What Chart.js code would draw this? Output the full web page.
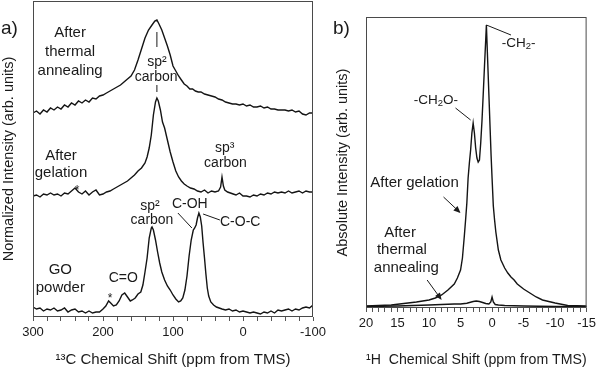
<!DOCTYPE html>
<html lang="en">
<head>
<meta charset="UTF-8" />
<title>13C and 1H NMR spectra</title>
<script src="https://cdn.jsdelivr.net/npm/chart.js"></script>
<style>
  body { margin: 0; background: #fff; font-family: 'Liberation Sans', Arial, sans-serif; }
  #wrap { position: relative; width: 600px; height: 369px; overflow: hidden; }
  canvas { position: absolute; top: 0; }
  #cA { left: 0; }
  #cB { left: 320px; }
  .tag { position: absolute; font-size: 19px; line-height: 1; color: #1a1a1a; }
</style>
</head>
<body>
<div id="wrap">
  <canvas id="cA" width="340" height="369"></canvas>
  <canvas id="cB" width="280" height="369"></canvas>
  <div class="tag" style="left:1px;top:18px">a)</div>
  <div class="tag" style="left:333px;top:18px">b)</div>
</div>

<script>
// ---- panel a: 13C spectra (traces are offset, arb. units) ----
const annealPpm = [300,295,290,285,280,275,270,265,260,255,
                   250,245,240,235,230,225,220,215,210,205,
                   200,195,190,185,180,175,170,165,160,155,
                   150,145,140,135,130,126,123,120,116,112,
                   108,104,100,96,92,88,84,80,76,72,
                   68,64,60,55,50,45,40,35,30,25,
                   20,15,10,5,0,-5,-10,-15,-20,-25,
                   -30,-35,-40,-45,-50,-55,-60,-65,-70,-75,
                   -80,-85,-90,-95,-100];
const annealInt = [204,206,203,207,205,209,207,210,208,212,
                   210,214,212,216,214,217,215,219,218,221,
                   222,224,226,228,230,232,235,238,241,247,
                   257,268,279,287,292,296,297,293,287,279,
                   271,262,251,246,241,237,233,231,228,228,
                   226,225,225,223,222,221,220,218,217,215,
                   214,213,213,212,213,211,212,210,210,211,
                   209,210,208,208,207,207,207,206,207,205,
                   206,203,202,204,204];

const gelPpm = [300,295,290,285,280,275,270,265,260,255,
                250,245,240,235,230,225,220,215,210,205,
                200,195,190,185,180,175,170,165,160,155,
                150,145,140,137,134,131,128,125,123,121,
                118,115,112,108,104,100,96,92,88,84,
                80,75,70,65,60,55,50,45,40,35,
                32,30,28,26,22,18,14,10,5,0,
                -5,-10,-15,-20,-25,-30,-35,-40,-45,-50,
                -55,-60,-65,-70,-75,-80,-85,-90,-95,-100];
const gelInt = [121,122,120,123,122,124,122,123,121,124,
                123,126,129,125,123,126,122,125,127,122,
                123,125,126,128,130,132,134,136,139,142,
                146,149,154,160,169,182,202,215,219,216,
                207,195,189,177,165,155,146,140,136,133,
                131,129,128,126,125,127,124,126,125,126,
                130,140,131,127,125,124,123,122,124,121,
                121,120,122,121,123,122,124,123,125,124,
                125,124,126,124,125,126,124,126,125,125];

const goPpm = [300,295,290,285,280,275,270,265,260,255,
               250,245,240,235,230,225,220,215,210,205,
               200,196,192,189,185,181,177,173,169,165,
               161,158,154,150,146,143,140,137,134,131,
               130,128,125,122,119,116,112,108,104,100,
               96,92,89,86,83,80,77,74,71,69,
               67,65,63,61,59,57,55,53,51,49,
               46,42,38,34,30,25,20,15,10,5,
               0,-5,-10,-15,-20,-25,-30,-35,-40,-45,
               -50,-55,-60,-65,-70,-75,-80,-85,-90,-95,
               -100];
const goInt = [10,8,9,6,8,7,9,6,7,9,
               5,7,8,5,6,4,6,4,5,5,
               8,11,16,14,11,12,16,22,24,20,
               16,17,19,23,25,32,45,59,79,89,
               90,87,77,65,54,45,37,31,27,22,
               18,15,16,19,27,41,61,77,87,89,
               92,99,104,100,91,74,59,43,29,21,
               15,12,10,9,8,7,8,6,7,5,
               6,5,4,5,4,3,5,4,6,4,
               7,6,7,8,6,8,7,9,10,9,
               12];

// ---- panel b: 1H spectra (absolute intensity, arb. units) ----
const hGelPpm = [20,18,16,14,12,10,9,8,7,6,
                 5.5,5,4.7,4.4,4.2,4,3.8,3.6,3.4,3.2,
                 3,2.8,2.6,2.4,2.2,2,1.8,1.6,1.4,1.2,
                 1,0.9,0.7,0.5,0.3,0.15,0,-0.2,-0.4,-0.6,
                 -1,-1.4,-2,-2.5,-3,-3.5,-4,-5,-6,-7,
                 -8,-10,-12,-15];
const hGelInt = [2,2.5,3,4.5,6,8,10,13,18,24,
                 30,38,50,72,88,105,130,145,158,175,
                 185,175,160,150,146,148,165,187,214,242,
                 269,283,248,213,178,152,130,102,88,76,
                 58,48,40,35,31,28,24,19,15,11,
                 8,5,2.5,2];

const hAnnPpm = [20,15,10,8,6,5,4,3,2.5,2,
                 1.5,1,0.5,0.2,0,-0.2,-0.5,-1,-2,-5,
                 -10,-15];
const hAnnInt = [1.5,2,3,3.5,4,4,4.8,6.5,7,6.5,
                 5.5,4.5,4,6,11,6,3.5,3,2.5,2,
                 1.5,1.2];

// labels placed in data coordinates (ppm, intensity)
const notesA = {
  texts: [
    { x: 247, y: 284, p: ['After'], s: 15 },
    { x: 247, y: 265, p: ['thermal'], s: 15 },
    { x: 247, y: 246, p: ['annealing'], s: 15 },
    { x: 123, y: 255, p: ['sp²'], s: 14 },
    { x: 124, y: 240, p: ['carbon'], s: 14 },
    { x: 260, y: 161, p: ['After'], s: 15 },
    { x: 260, y: 144, p: ['gelation'], s: 15 },
    { x: 26, y: 169, p: ['sp³'], s: 14 },
    { x: 25, y: 154, p: ['carbon'], s: 14 },
    { x: 237, y: 126, p: ['*'], s: 12 },
    { x: 190, y: 18, p: ['*'], s: 12 },
    { x: 133, y: 111, p: ['sp²'], s: 14 },
    { x: 130, y: 97, p: ['carbon'], s: 14 },
    { x: 76, y: 113, p: ['C-OH'], s: 14 },
    { x: 4, y: 95, p: ['C-O-C'], s: 14 },
    { x: 171, y: 39, p: ['C=O'], s: 14 },
    { x: 261, y: 47, p: ['GO'], s: 15 },
    { x: 261, y: 29, p: ['powder'], s: 15 }
  ],
  lines: [[123, 285, 123, 270], [123, 232, 123, 225], [93, 104, 73, 89], [57, 103, 33, 97]],
  arrows: []
};

const notesB = {
  texts: [
    { x: -4.2, y: 265, p: ['-CH', ['2'], '-'], s: 13.5 },
    { x: 8.9, y: 208, p: ['-CH', ['2'], 'O-'], s: 13.5 },
    { x: 12.3, y: 125, p: ['After gelation'], s: 15 },
    { x: 14.6, y: 75, p: ['After'], s: 15 },
    { x: 14.3, y: 58, p: ['thermal'], s: 15 },
    { x: 13.6, y: 40, p: ['annealing'], s: 15 }
  ],
  lines: [[0.9, 283, -3.0, 273], [5.8, 200, 3.4, 188]],
  arrows: [[7.7, 111, 5.0, 95], [10.3, 28, 8.0, 8]]
};

const FONT = "'Liberation Sans', Arial, sans-serif";
const INK = '#1a1a1a';

function pairs(xs, ys) {
  return xs.map((v, i) => ({ x: v, y: ys[i] }));
}

function drawParts(ctx, parts, cx, cy, size) {
  const pieces = parts.map(p => {
    const sub = Array.isArray(p);
    const txt = sub ? p[0] : p;
    const fs = sub ? size * 0.7 : size;
    ctx.font = fs + 'px ' + FONT;
    return { txt, sub, fs, w: ctx.measureText(txt).width };
  });
  let x = cx - pieces.reduce((a, b) => a + b.w, 0) / 2;
  ctx.textAlign = 'left';
  ctx.textBaseline = 'middle';
  pieces.forEach(pc => {
    ctx.font = pc.fs + 'px ' + FONT;
    ctx.fillText(pc.txt, x, cy + (pc.sub ? size * 0.28 : 0));
    x += pc.w;
  });
}

function notesPlugin(notes) {
  return {
    id: 'notes',
    afterDraw(chart) {
      const { ctx, chartArea: a, scales: { x, y } } = chart;
      ctx.save();
      // frame around plot
      ctx.strokeStyle = '#4a4a4a';
      ctx.lineWidth = 1;
      ctx.strokeRect(a.left + 0.5, a.top + 0.5, a.right - a.left - 1, a.bottom - a.top - 1);

      ctx.strokeStyle = INK;
      ctx.fillStyle = INK;
      ctx.lineWidth = 1;
      notes.lines.forEach(l => {
        ctx.beginPath();
        ctx.moveTo(x.getPixelForValue(l[0]), y.getPixelForValue(l[1]));
        ctx.lineTo(x.getPixelForValue(l[2]), y.getPixelForValue(l[3]));
        ctx.stroke();
      });
      notes.arrows.forEach(l => {
        const x0 = x.getPixelForValue(l[0]), y0 = y.getPixelForValue(l[1]);
        const x1 = x.getPixelForValue(l[2]), y1 = y.getPixelForValue(l[3]);
        const ang = Math.atan2(y1 - y0, x1 - x0);
        ctx.beginPath();
        ctx.moveTo(x0, y0);
        ctx.lineTo(x1 - 4 * Math.cos(ang), y1 - 4 * Math.sin(ang));
        ctx.stroke();
        ctx.beginPath();
        ctx.moveTo(x1, y1);
        ctx.lineTo(x1 - 7 * Math.cos(ang) + 3 * Math.sin(ang), y1 - 7 * Math.sin(ang) - 3 * Math.cos(ang));
        ctx.lineTo(x1 - 7 * Math.cos(ang) - 3 * Math.sin(ang), y1 - 7 * Math.sin(ang) + 3 * Math.cos(ang));
        ctx.closePath();
        ctx.fill();
      });
      notes.texts.forEach(t => {
        drawParts(ctx, t.p, x.getPixelForValue(t.x), y.getPixelForValue(t.y), t.s);
      });
      ctx.restore();
    }
  };
}

function lineSet(xs, ys, w) {
  return { data: pairs(xs, ys), borderColor: '#141414', borderWidth: w, pointRadius: 0, tension: 0, fill: false };
}

function makeChart(id, cfg) {
  return new Chart(document.getElementById(id), {
    type: 'line',
    data: { datasets: cfg.sets },
    options: {
      responsive: false,
      animation: false,
      layout: { padding: cfg.pad },
      plugins: { legend: { display: false }, tooltip: { enabled: false } },
      scales: {
        x: {
          type: 'linear', reverse: true, min: cfg.xMin, max: cfg.xMax,
          afterFit: s => { s.height = cfg.xH; },
          border: { display: false },
          grid: { drawOnChartArea: false, tickLength: 4, color: '#555' },
          ticks: {
            stepSize: cfg.step, autoSkip: false, maxRotation: 0, padding: 4,
            color: INK, font: { family: FONT, size: 13 },
            callback: v => (Math.round(v) % cfg.every === 0 ? String(Math.round(v)) : '')
          },
          title: { display: true, text: cfg.xTitle, color: INK,
                   font: { family: FONT, size: 15 }, padding: { top: 0, bottom: 0 } }
        },
        y: {
          min: 0, max: cfg.yMax,
          afterFit: s => { s.width = cfg.yW; },
          ticks: { display: false },
          grid: { display: false },
          border: { display: false },
          title: { display: true, text: cfg.yTitle, color: INK,
                   font: { family: FONT, size: 14.5 }, padding: { top: cfg.yPad, bottom: 0 } }
        }
      }
    },
    plugins: [notesPlugin(cfg.notes)]
  });
}

makeChart('cA', {
  sets: [lineSet(annealPpm, annealInt, 1.4), lineSet(gelPpm, gelInt, 1.4), lineSet(goPpm, goInt, 1.4)],
  pad: { top: 1, right: 27, left: 0, bottom: 0 },
  xMin: -100, xMax: 300, step: 20, every: 100, xH: 52,
  yMax: 316, yW: 33, yPad: 0.3,
  xTitle: '¹³C Chemical Shift (ppm from TMS)',
  yTitle: 'Normalized Intensity (arb. units)',
  notes: notesA
});

makeChart('cB', {
  sets: [lineSet(hGelPpm, hGelInt, 1.4), lineSet(hAnnPpm, hAnnInt, 1.4)],
  pad: { top: 17, right: 10, left: 0, bottom: 0 },
  xMin: -15, xMax: 20, step: 1, every: 5, xH: 61,
  yMax: 291, yW: 46, yPad: 14.3,
  xTitle: '¹H  Chemical Shift (ppm from TMS)',
  yTitle: 'Absolute Intensity (arb. units)',
  notes: notesB
});
</script>
</body>
</html>
